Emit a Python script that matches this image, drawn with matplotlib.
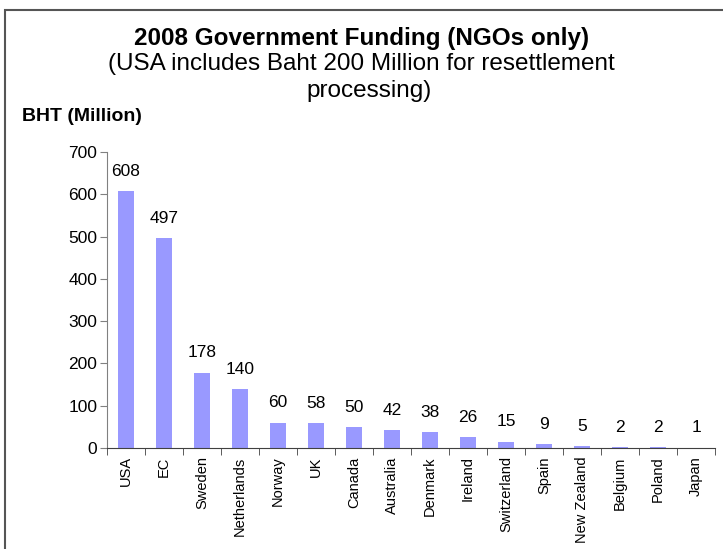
import matplotlib.pyplot as plt
from matplotlib.patches import Rectangle

# data
countries = ['USA', 'EC', 'Sweden', 'Netherlands', 'Norway', 'UK', 'Canada',
             'Australia', 'Denmark', 'Ireland', 'Switzerland', 'Spain',
             'New Zealand', 'Belgium', 'Poland', 'Japan']
funding = [608, 497, 178, 140, 60, 58, 50, 42, 38, 26, 15, 9, 5, 2, 2, 1]
yticks = [0, 100, 200, 300, 400, 500, 600, 700]

plt.rcParams['font.family'] = ['Liberation Sans', 'DejaVu Sans']

fig = plt.figure(figsize=(7.23, 5.49), dpi=100)
ax = fig.add_axes([0.148, 0.184, 0.841, 0.539])

x = list(range(len(countries)))
ax.bar(x, funding, width=0.42, color='#9999FF')

# value labels above bars
for xi, v in zip(x, funding):
    ax.annotate(str(v), (xi, v), xytext=(0, 11), textcoords='offset points',
                ha='center', va='baseline', fontsize=12.5)

ax.set_xlim(-0.5, len(countries) - 0.5)
ax.set_ylim(0, 700)
ax.set_yticks(yticks)
ax.tick_params(axis='y', labelsize=12.5, length=5, color='#808080', pad=2)

# category labels at centers, tick marks on boundaries
ax.set_xticks(x)
ax.set_xticklabels(countries, rotation=90, fontsize=10.5)
ax.tick_params(axis='x', which='major', length=0, pad=6)
ax.set_xticks([i - 0.5 for i in range(len(countries) + 1)], minor=True)
ax.tick_params(axis='x', which='minor', length=5, color='#404040')

for s in ['top', 'right']:
    ax.spines[s].set_visible(False)
ax.spines['left'].set_color('#808080')
ax.spines['bottom'].set_color('#404040')

fig.text(0.5, 0.918, '2008 Government Funding (NGOs only)', ha='center',
         va='baseline', fontsize=17.5, fontweight='bold')
fig.text(0.5, 0.8725, '(USA includes Baht 200 Million for resettlement',
         ha='center', va='baseline', fontsize=17.5)
fig.text(0.51, 0.8233, 'processing)', ha='center', va='baseline', fontsize=17.5)
fig.text(0.031, 0.7796, 'BHT (Million)', ha='left', va='baseline',
         fontsize=14, fontweight='bold')

# frame around the chart (right and bottom edges cut off)
fig.patches.append(Rectangle((0.007, -0.1), 1.1, 1.081, transform=fig.transFigure,
                             fill=False, edgecolor='#555555', linewidth=1.5))

plt.savefig('out.png')
